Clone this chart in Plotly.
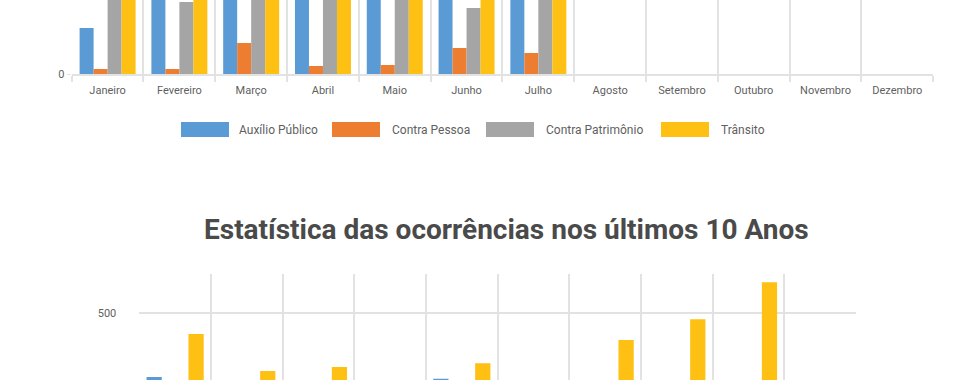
import plotly.graph_objects as go

# ---------------- data ----------------
months = ["Janeiro", "Fevereiro", "Março", "Abril", "Maio", "Junho", "Julho",
          "Agosto", "Setembro", "Outubro", "Novembro", "Dezembro"]
series_names = ["Auxílio Público", "Contra Pessoa", "Contra Patrimônio", "Trânsito"]
colors = ["#5B9BD5", "#ED7D31", "#A5A5A5", "#FDC013"]

m_auxilio = [46, 95, 110, 105, 100, 90, 98, None, None, None, None, None]
m_pessoa = [5, 5, 31, 8, 9, 26, 21, None, None, None, None, None]
m_patrimonio = [130, 72, 120, 125, 115, 66, 110, None, None, None, None, None]
m_transito = [140, 150, 160, 145, 150, 130, 140, None, None, None, None, None]

years = ["2010", "2011", "2012", "2013", "2014", "2015", "2016", "2017", "2018", "2019"]
y_auxilio = [181, 150, 140, 120, 173, 130, 140, 150, 160, 60]
y_pessoa = [40, 35, 30, 30, 35, 25, 30, 35, 40, 15]
y_patrimonio = [120, 110, 100, 90, 100, 80, 90, 100, 120, 40]
y_transito = [396, 211, 231, 140, 250, 150, 366, 470, 655, 120]

title_text = "Estatística das ocorrências nos últimos 10 Anos"

W, H = 980, 380
FONT = "Roboto"
GRID = "#E2E2E2"
TICKC = "#5F5F5F"

def px_x(p):
    return p / W

def px_y(p):
    return 1 - p / H

fig = go.Figure()

monthly = [m_auxilio, m_pessoa, m_patrimonio, m_transito]
yearly = [y_auxilio, y_pessoa, y_patrimonio, y_transito]
for name, col, vals in zip(series_names, colors, monthly):
    fig.add_trace(go.Bar(x=months, y=vals, name=name, marker_color=col,
                         marker_line_width=0, xaxis="x", yaxis="y",
                         showlegend=False))
for name, col, vals in zip(series_names, colors, yearly):
    fig.add_trace(go.Bar(x=years, y=vals, name=name, marker_color=col,
                         marker_line_width=0, xaxis="x2", yaxis="y2",
                         showlegend=False))

# ---------------- layout ----------------
top_base = 74
bot_top = 274
bot_zero = 413.3   # pixel where 0 would be for bottom chart
bot_scale = 0.2    # px per unit

fig.update_layout(
    width=W, height=H,
    margin=dict(l=0, r=0, t=0, b=0, autoexpand=False),
    template="none",
    paper_bgcolor="white", plot_bgcolor="white",
    barmode="group",
    font=dict(family=FONT, size=11, color=TICKC),
    showlegend=False,
    xaxis=dict(
        domain=[px_x(71.7), px_x(933.2)],
        anchor="y",
        type="category",
        tickson="boundaries",
        ticks="outside", ticklen=6, tickcolor=GRID, tickwidth=1.5,
        ticklabelstandoff=5,
        showgrid=True, gridcolor=GRID, gridwidth=1.5,
        showline=True, linecolor=GRID, linewidth=2,
        tickfont=dict(family=FONT, size=11, color=TICKC),
        automargin=False, fixedrange=True,
    ),
    yaxis=dict(
        domain=[px_y(top_base), 1.0],
        anchor="x",
        range=[0, top_base],
        tick0=0, dtick=100,
        showgrid=False, zeroline=False,
        ticks="outside", ticklen=4, tickcolor=GRID,
        tickfont=dict(family=FONT, size=11, color=TICKC),
        automargin=False, fixedrange=True,
    ),
    xaxis2=dict(
        domain=[px_x(139.3), px_x(856)],
        anchor="y2",
        type="category",
        tickson="boundaries",
        ticks="outside", ticklen=6, tickcolor=GRID,
        showgrid=True, gridcolor=GRID, gridwidth=1.5,
        showline=False, showticklabels=False,
        automargin=False, fixedrange=True,
    ),
    yaxis2=dict(
        domain=[0.0, px_y(bot_top)],
        anchor="x2",
        range=[(bot_zero - H) / bot_scale, (bot_zero - bot_top) / bot_scale],
        tick0=0, dtick=500,
        showgrid=True, gridcolor=GRID, gridwidth=1.5,
        zeroline=False,
        ticks="", ticklabelstandoff=22,
        tickfont=dict(family=FONT, size=11, color=TICKC),
        automargin=False, fixedrange=True,
    ),
)

fig.update_layout(bargap=0.22, bargroupgap=0)
for tr in fig.data[4:]:
    tr.width = 0.85 / 4

# ---------------- custom legend ----------------
legend_y = 129.5
swatches = [(181, 229, 237), (332, 380, 390), (486, 534, 544), (661, 709, 719)]
shapes = []
annotations = []
for (x0, x1, tx), col, name in zip(swatches, colors, series_names):
    shapes.append(dict(type="rect", xref="paper", yref="paper",
                       x0=px_x(x0), x1=px_x(x1),
                       y0=px_y(legend_y + 7.5), y1=px_y(legend_y - 7.5),
                       fillcolor=col, line=dict(width=0)))
    annotations.append(dict(text=name, xref="paper", yref="paper",
                            x=px_x(tx), y=px_y(legend_y),
                            xanchor="left", yanchor="middle", showarrow=False,
                            font=dict(family=FONT, size=12, color=TICKC)))

annotations.append(dict(text="<b>" + title_text + "</b>", xref="paper", yref="paper",
                        x=px_x(506.5), y=px_y(229), xanchor="center", yanchor="middle",
                        showarrow=False,
                        font=dict(family=FONT, size=28, color="#4A4A4A")))

fig.update_layout(shapes=shapes, annotations=annotations)

fig.write_html("out.html", config={"displayModeBar": False},
               post_script="document.body.style.margin='0';")
